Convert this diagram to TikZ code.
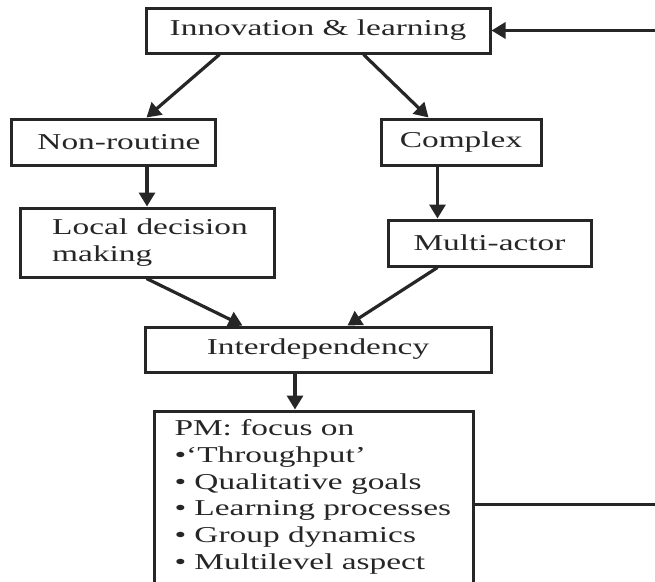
\documentclass[tikz,border=0pt]{standalone}
\usepackage{fontspec}
\setmainfont{Liberation Serif}[FakeStretch=1.47]
\usetikzlibrary{arrows.meta,calc}
\definecolor{ink}{HTML}{262626}
\begin{document}
\begin{tikzpicture}[x=1pt,y=-1pt,
  box/.style={draw=ink,line width=3pt,text=ink,inner sep=0pt,align=center,
    font=\fontsize{22.7}{26.8}\selectfont},
  conn/.style={draw=ink,line width=3.2pt,-{Triangle[length=14pt,width=16pt]}}]
\useasboundingbox (0,0) rectangle (655,581);
\fill[white] (0,0) rectangle (655,581);
\clip (0,0) rectangle (655,581);
\node[box,minimum width=344pt,minimum height=45pt] (inno) at (318,30.5) {Innovation \& learning};
\node[box,minimum width=204pt,minimum height=46pt] (nonr) at (113,142) {\hspace*{12pt}Non-routine};
\node[box,minimum width=160pt,minimum height=46pt] (comp) at (461,142) {Complex};
\node[box,minimum width=254pt,minimum height=69pt,align=left] (local) at (147,242.5) {\hspace*{6pt}Local decision\\\hspace*{6pt}making};
\node[box,minimum width=203pt,minimum height=46pt] (multi) at (489.5,243) {Multi-actor};
\node[box,minimum width=346pt,minimum height=45pt] (inter) at (318,349.5) {Interdependency};
\node[box,minimum width=319pt,minimum height=209pt] (pm) at (313.5,515.5) {};
\node[box,draw=none,align=left,anchor=north west] (pmtext) at (173,418)
  {PM: focus on\\•‘Throughput’\\• Qualitative goals\\• Learning processes\\• Group dynamics\\• Multilevel aspect};
% connectors
\draw[conn] ($(inno.south west)+(75,0)$) -- ($(nonr.north west)+(137,0)$);
\draw[conn] ($(inno.south west)+(219,0)$) -- ($(comp.north west)+(49,0)$);
\draw[conn] (local.north |- nonr.south) -- (local.north);
\coordinate (cdown) at ($(comp.south west)+(58,0)$);
\draw[conn] (cdown) -- (cdown |- multi.north);
\draw[conn] ($(local.south west)+(128,0)$) -- ($(inter.north west)+(99,0)$);
\draw[conn] ($(multi.south west)+(51,0)$) -- ($(inter.north west)+(204,0)$);
\coordinate (pdown) at ($(pm.north west)+(142.5,0)$);
\draw[conn] (pdown |- inter.south) -- (pdown);
\coordinate (fb1) at ($(pm.north east)+(0,95)$);
\coordinate (fb2) at (700,0 |- fb1);
\coordinate (fb3) at (700,0 |- inno.east);
\draw[conn] (fb1) -- (fb2) -- (fb3) -- (inno.east);
\end{tikzpicture}
\end{document}
